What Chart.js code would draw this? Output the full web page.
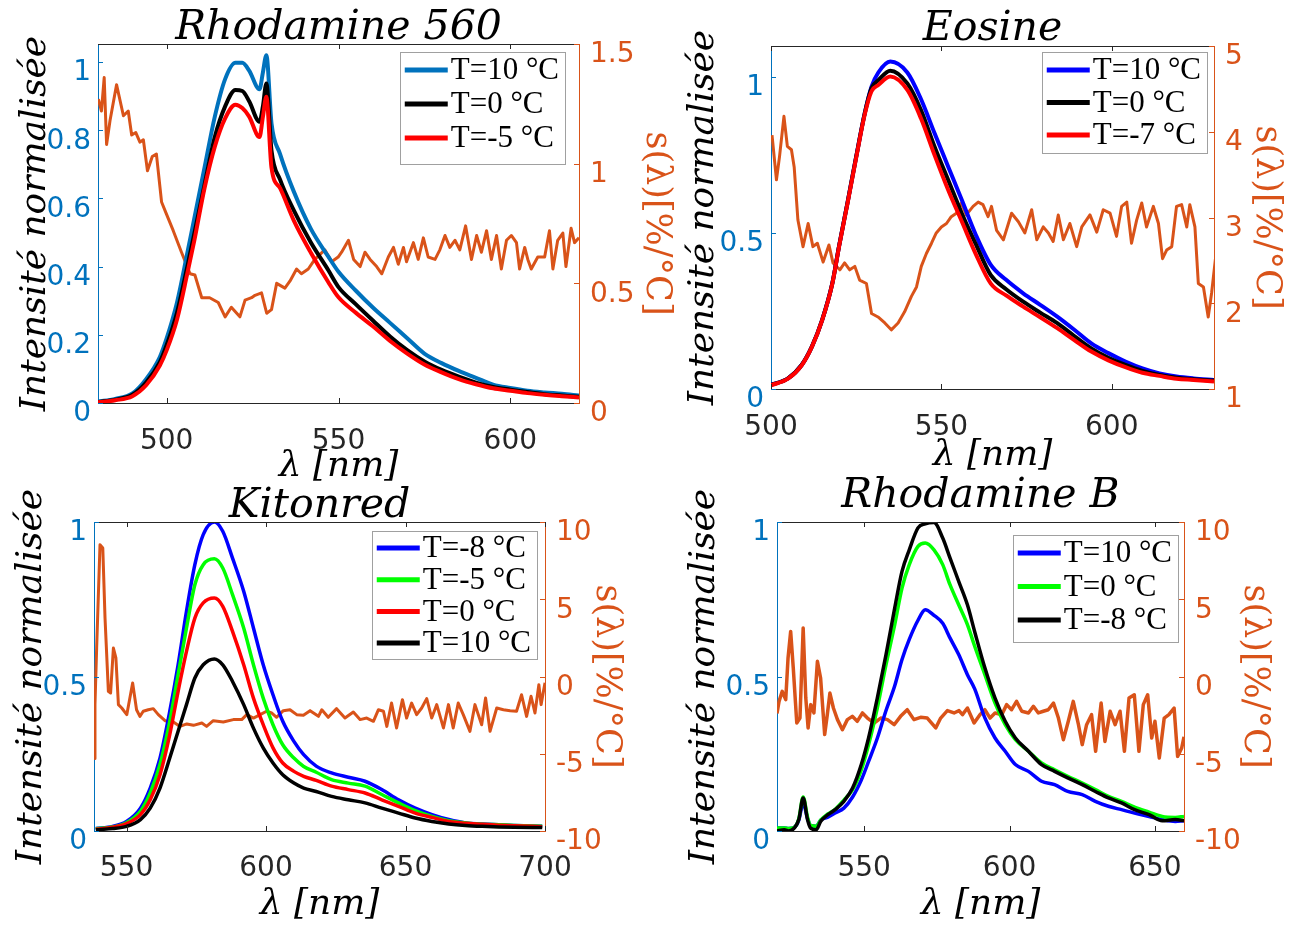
<!DOCTYPE html>
<html>
<head>
<meta charset="utf-8">
<script src="https://cdn.jsdelivr.net/npm/chart.js@4.4.1/dist/chart.umd.min.js"></script>
<style>
  html, body { margin: 0; background: #fff; }
  #wrap { position: relative; width: 1301px; height: 925px; overflow: hidden; }
  #wrap canvas { position: absolute; left: 0; top: 0; }
</style>
</head>
<body>
<div id="wrap">
  <canvas id="c1" width="1301" height="925"></canvas>
  <canvas id="c2" width="1301" height="925"></canvas>
  <canvas id="c3" width="1301" height="925"></canvas>
  <canvas id="c4" width="1301" height="925"></canvas>
</div>
<script>
// ---- Rhodamine 560 ----
const r560Wl = [480, 485, 490, 494, 498, 500, 503, 506, 508, 511, 514, 517, 520, 522, 524, 527, 528, 529, 530.5, 533,
  537, 542, 547, 550, 555, 560, 565, 570, 575, 580, 585, 590, 595, 600, 605, 610, 615, 620];
const r560T10 = [0.004, 0.012, 0.028, 0.07, 0.135, 0.19, 0.295, 0.44, 0.54, 0.69, 0.84, 0.95, 0.998, 0.998, 0.975, 0.92, 0.97, 1.02, 0.82, 0.73,
  0.62, 0.51, 0.43, 0.385, 0.33, 0.28, 0.235, 0.19, 0.145, 0.117, 0.094, 0.074, 0.054, 0.044, 0.036, 0.031, 0.027, 0.022];
const r560T0 = [0.003, 0.01, 0.024, 0.06, 0.12, 0.17, 0.265, 0.4, 0.495, 0.64, 0.78, 0.87, 0.918, 0.915, 0.885, 0.825, 0.87, 0.937, 0.74, 0.655,
  0.565, 0.47, 0.39, 0.34, 0.29, 0.242, 0.195, 0.155, 0.122, 0.097, 0.077, 0.06, 0.047, 0.039, 0.032, 0.026, 0.022, 0.018];
const r560Tm5 = [0.002, 0.008, 0.02, 0.052, 0.11, 0.155, 0.245, 0.38, 0.475, 0.63, 0.752, 0.835, 0.875, 0.865, 0.84, 0.78, 0.84, 0.898, 0.69, 0.63,
  0.535, 0.44, 0.355, 0.31, 0.265, 0.225, 0.182, 0.145, 0.113, 0.09, 0.07, 0.055, 0.043, 0.036, 0.029, 0.024, 0.02, 0.016];
const r560S = [[480.1,1.27],[481,1.22],[481.8,1.36],[482.5,1.08],[483.5,1.18],[485.4,1.33],[487.4,1.2],[488.8,1.22],[489.8,1.12],[491,1.13],
  [492.2,1.09],[493.2,1.1],[494.4,0.97],[495.8,1.03],[497,1.04],[498.5,0.84],[499.9,0.79],[501.9,0.72],[504.3,0.63],[506.8,0.54],
  [508.2,0.535],[510.2,0.44],[512.5,0.44],[515,0.42],[517,0.36],[518.8,0.4],[521.3,0.36],[522.8,0.43],[524.7,0.44],[525.7,0.45],
  [527.6,0.46],[529.1,0.375],[530.5,0.39],[532,0.5],[534.4,0.48],[535.9,0.51],[537.8,0.56],[539.2,0.54],[541.2,0.56],[543.1,0.6],
  [546,0.64],[548,0.59],[549.9,0.61],[550.9,0.63],[552.9,0.68],[554.4,0.6],[556.3,0.57],[557.7,0.63],[559.2,0.6],[561.1,0.57],
  [562.6,0.54],[564.5,0.61],[566,0.65],[567.4,0.58],[568.9,0.65],[569.8,0.59],[571.8,0.67],[573.2,0.6],[574.7,0.69],[576.1,0.61],
  [578.1,0.6],[579.5,0.64],[581,0.7],[582.4,0.65],[583.9,0.68],[585.3,0.64],[587,0.74],[588.7,0.6],[590.2,0.7],[591.6,0.63],
  [593.1,0.72],[594.5,0.6],[596,0.7],[597.4,0.56],[598.9,0.68],[600.3,0.7],[601.8,0.67],[602.7,0.56],[604.2,0.65],[605.1,0.6],
  [606.1,0.56],[608,0.61],[610,0.61],[611.4,0.72],[612.4,0.56],[613.8,0.68],[615.3,0.71],[616.2,0.57],[617.7,0.73],[618.7,0.67],[620,0.69]];
const r560XTicks = [500, 550, 600];
const r560YTicks = [0, 0.2, 0.4, 0.6, 0.8, 1];
const r560Y2Ticks = [0, 0.5, 1, 1.5];
const r560Labels = ['T=10 °C', 'T=0 °C', 'T=-5 °C'];

// ---- Eosine ----
const eosWl = [500, 505, 509, 512, 515, 518, 520, 522.5, 525, 527.5, 529.5, 531.5, 535, 540, 544, 548, 552, 556, 560, 564.5,
  569, 574, 579, 584, 589, 594, 599, 604, 609, 614, 619, 624, 630];
const eosT10 = [0.013, 0.034, 0.077, 0.136, 0.221, 0.339, 0.46, 0.6, 0.745, 0.884, 0.97, 1.015, 1.05, 1.015, 0.93, 0.82, 0.713, 0.606, 0.497, 0.398,
  0.35, 0.307, 0.27, 0.232, 0.19, 0.146, 0.115, 0.088, 0.066, 0.05, 0.04, 0.034, 0.029];
const eosT0 = [0.013, 0.034, 0.077, 0.136, 0.221, 0.339, 0.46, 0.6, 0.745, 0.884, 0.965, 0.99, 1.021, 0.98, 0.895, 0.777, 0.67, 0.563, 0.467, 0.365,
  0.32, 0.28, 0.245, 0.211, 0.17, 0.13, 0.1, 0.077, 0.058, 0.045, 0.036, 0.031, 0.027];
const eosTm7 = [0.012, 0.033, 0.076, 0.135, 0.22, 0.338, 0.458, 0.598, 0.742, 0.88, 0.955, 0.975, 1.002, 0.959, 0.868, 0.75, 0.638, 0.537, 0.435, 0.338,
  0.3, 0.264, 0.23, 0.195, 0.157, 0.12, 0.092, 0.07, 0.052, 0.042, 0.033, 0.029, 0.024];
const eosS = [[500.3,3.96],[501.6,3.44],[502.5,3.71],[503.8,4.18],[504.8,3.83],[506,3.79],[506.8,3.59],[507.9,2.97],[509.4,2.66],[510.9,2.93],
  [512.3,2.66],[513.6,2.7],[515.3,2.48],[517,2.68],[518.2,2.47],[520.2,2.39],[521.6,2.47],[523.1,2.39],[524.6,2.43],[526,2.27],
  [528,2.23],[529.5,1.88],[531.4,1.84],[533.4,1.77],[535.3,1.69],[537.3,1.77],[539.2,1.9],[541.2,2.08],[542.7,2.19],[544.1,2.43],
  [545.6,2.58],[547.1,2.7],[548.5,2.82],[550,2.89],[551.5,2.93],[552.9,3.01],[554.4,3.05],[555.9,3.17],[557.3,3.03],[559.3,3.13],
  [560.8,3.18],[562.2,3.15],[563.7,3.01],[564.7,3.13],[566.2,2.85],[568.2,2.74],[570.6,3.05],[572.6,2.95],[574.5,2.82],[576.5,3.09],
  [578,2.74],[579.9,2.89],[581.4,2.82],[582.8,2.72],[584.3,3.03],[585.8,2.74],[587.7,2.93],[589.7,2.66],[591.2,2.89],[593.6,3.03],
  [595.6,2.83],[597.5,3.09],[599.5,3.05],[601.4,2.78],[602.9,3.13],[604.4,3.18],[605.8,2.7],[607.3,2.97],[608.8,3.17],[610.2,2.89],
  [612.2,3.13],[613.7,2.93],[614.9,2.52],[616.1,2.62],[617.6,2.66],[619,3.13],[620.5,3.15],[622,2.89],[622.9,3.15],[624.4,2.89],
  [625.4,2.23],[626.9,2.19],[628.3,1.84],[629.3,2.12],[630.6,2.58]];
const eosXTicks = [500, 550, 600];
const eosYTicks = [0, 0.5, 1];
const eosY2Ticks = [1, 2, 3, 4, 5];
const eosLabels = ['T=10 °C', 'T=0 °C', 'T=-7 °C'];

// ---- Kitonred ----
const kitWl = [539, 545, 550, 555, 558.5, 562, 565.5, 568.5, 571.5, 574.5, 577.5, 581.5, 584.5, 588, 592, 595.5, 599, 602.5, 606, 610,
  613.5, 618, 623.5, 629.5, 635.5, 641.5, 647.5, 653.5, 659.5, 665.5, 671.5, 677.5, 683.5, 689, 699];
const kitTm8 = [0.008, 0.015, 0.031, 0.074, 0.139, 0.236, 0.387, 0.538, 0.711, 0.862, 0.959, 1.0, 0.97, 0.883, 0.776, 0.657, 0.538, 0.441, 0.355, 0.29,
  0.247, 0.21, 0.188, 0.174, 0.161, 0.134, 0.101, 0.074, 0.053, 0.037, 0.026, 0.023, 0.02, 0.018, 0.015];
const kitTm5 = [0.007, 0.013, 0.027, 0.064, 0.123, 0.215, 0.355, 0.506, 0.657, 0.797, 0.862, 0.881, 0.851, 0.765, 0.657, 0.538, 0.43, 0.344, 0.279, 0.236,
  0.209, 0.19, 0.166, 0.155, 0.145, 0.118, 0.091, 0.066, 0.047, 0.033, 0.026, 0.022, 0.02, 0.018, 0.015];
const kitT0 = [0.006, 0.012, 0.024, 0.053, 0.101, 0.182, 0.312, 0.452, 0.581, 0.689, 0.738, 0.754, 0.727, 0.646, 0.538, 0.43, 0.344, 0.269, 0.22, 0.193,
  0.177, 0.164, 0.145, 0.134, 0.123, 0.101, 0.08, 0.058, 0.044, 0.031, 0.025, 0.022, 0.019, 0.017, 0.014];
const kitT10 = [0.004, 0.008, 0.015, 0.037, 0.074, 0.139, 0.236, 0.323, 0.409, 0.495, 0.538, 0.557, 0.538, 0.484, 0.409, 0.333, 0.269, 0.22, 0.182, 0.155,
  0.139, 0.128, 0.112, 0.101, 0.091, 0.074, 0.058, 0.042, 0.031, 0.023, 0.018, 0.015, 0.013, 0.012, 0.011];
const kitS = [[538.4,-5.3],[538.7,-1.82],[539.3,1.84],[540.5,8.53],[541.5,8.32],[542.3,3.79],[543.5,-0.96],[544.3,-1.07],[545.3,1.84],[546.2,1.2],
  [547.1,-1.82],[548.3,-2.04],[550.1,-2.47],[552.2,-0.42],[553.6,-2.15],[554.8,-2.58],[556,-2.25],[557.8,-2.15],[559.6,-2.08],[561.4,-2.47],
  [563.8,-2.86],[566.8,-2.94],[569.2,-3.23],[571.6,-3.07],[574,-3.16],[577,-3.01],[578.7,-3.23],[581.1,-2.86],[584.7,-2.94],[588.3,-2.79],
  [591.3,-2.79],[593.1,-2.47],[595.5,-2.69],[597.9,-2.47],[600.2,-2.25],[602,-2.36],[603.8,-2.64],[606.2,-2.21],[608.6,-2.15],[611,-2.47],
  [613.4,-2.51],[615.8,-2.21],[618.8,-2.58],[620,-2.15],[622.3,-2.64],[625.3,-2.08],[628.3,-2.69],[631.3,-2.3],[633.7,-2.79],[636.1,-2.69],
  [638.5,-2.9],[640.3,-2.15],[642.1,-2.25],[643.3,-3.23],[645,-1.72],[646.8,-3.33],[648.9,-1.5],[650.4,-2.69],[652.2,-1.72],[654,-2.47],
  [655.8,-2.04],[657.6,-1.43],[659.4,-2.69],[661.2,-1.82],[663.6,-3.33],[665.4,-1.82],[667.1,-3.33],[668.9,-1.72],[670.7,-2.47],[673.1,-3.55],
  [674.9,-1.82],[677.3,-3.12],[678.7,-1.39],[680.3,-3.55],[682.7,-2.04],[685.1,-2.15],[687.5,-2.21],[689.8,-2.25],[691.6,-1.18],[693.4,-2.58],
  [695,-1.28],[696.4,-2.36],[697.8,-0.53],[698.6,-1.82],[700,-0.4]];
const kitXTicks = [550, 600, 650, 700];
const kitYTicks = [0, 0.5, 1];
const kitY2Ticks = [-10, -5, 0, 5, 10];
const kitLabels = ['T=-8 °C', 'T=-5 °C', 'T=0 °C', 'T=10 °C'];

// ---- Rhodamine B ----
const rbWl = [520, 522.5, 524, 526, 527.5, 529, 530.5, 531.5, 533.5, 535, 537.5, 540, 543, 546, 549, 551.5, 554.5, 557.5, 560.5, 563,
  565.5, 568.5, 571, 574, 577, 579.5, 582.5, 585.5, 588, 591.5, 595, 598.5, 602, 606.5, 611, 615.5, 620, 625, 629.5, 634,
  638.5, 643, 648, 652.5, 657, 660];
const rbT10 = [0.01, 0.01, 0.008, 0.012, 0.035, 0.09, 0.04, 0.018, 0.015, 0.035, 0.045, 0.058, 0.074, 0.11, 0.165, 0.225, 0.3, 0.39, 0.47, 0.555,
  0.62, 0.682, 0.716, 0.698, 0.672, 0.625, 0.571, 0.506, 0.46, 0.366, 0.301, 0.258, 0.215, 0.193, 0.161, 0.15, 0.128, 0.118, 0.096, 0.08,
  0.069, 0.058, 0.047, 0.037, 0.031, 0.033];
const rbT0 = [0.01, 0.01, 0.008, 0.012, 0.04, 0.11, 0.045, 0.018, 0.015, 0.035, 0.055, 0.07, 0.1, 0.134, 0.198, 0.279, 0.398, 0.538, 0.668, 0.786,
  0.862, 0.921, 0.932, 0.91, 0.862, 0.797, 0.732, 0.668, 0.598, 0.506, 0.414, 0.344, 0.296, 0.258, 0.22, 0.198, 0.177, 0.155, 0.134, 0.112,
  0.096, 0.077, 0.061, 0.047, 0.044, 0.047];
const rbTm8 = [0, 0.004, 0, 0.01, 0.037, 0.107, 0.037, 0.01, 0.004, 0.031, 0.053, 0.069, 0.096, 0.139, 0.215, 0.301, 0.43, 0.571, 0.722, 0.84,
  0.91, 0.981, 0.994, 0.998, 0.948, 0.884, 0.808, 0.732, 0.645, 0.528, 0.43, 0.355, 0.301, 0.258, 0.215, 0.193, 0.172, 0.15, 0.128, 0.107,
  0.091, 0.069, 0.053, 0.033, 0.037, 0.033];
const rbS = [[520,-2.4],[520.7,-1.61],[521.8,-0.96],[523,-1.5],[523.8,1.2],[524.7,2.92],[525.6,0.55],[526.8,-3.01],[527.9,-2.69],[529,3.14],
  [529.9,-1.39],[530.7,-3.33],[531.6,-1.82],[532.7,-2.36],[533.9,0.98],[535,-0.1],[536.4,-3.76],[537.3,-2.47],[538.2,-1.07],[539.4,-2.04],
  [540.8,-2.79],[542.5,-3.44],[544.2,-2.79],[545.9,-2.58],[547.6,-2.9],[549.4,-2.36],[551.1,-2.69],[553.4,-3.01],[555.7,-2.69],[558,-2.79],
  [560.3,-3.12],[562.5,-2.58],[564.8,-2.15],[567.1,-2.79],[569.4,-2.64],[571.7,-2.69],[574.6,-3.33],[576.3,-2.69],[578.6,-2.21],[580.9,-2.36],
  [582.6,-2.21],[583.8,-2.47],[585.5,-2.04],[587.8,-3.01],[589.8,-2.47],[591.5,-2.15],[593.3,-2.69],[595,-2.36],[597.3,-2.47],[599,-1.82],
  [600.7,-2.15],[602.4,-1.61],[604.2,-2.25],[606.5,-2.36],[608.2,-1.93],[609.9,-2.36],[611.6,-2.25],[613.3,-2.15],[615.1,-1.72],[616.8,-2.69],
  [618.5,-4.09],[620.2,-2.9],[621.9,-1.61],[623.7,-3.12],[625,-4.41],[626.5,-3.12],[628.2,-2.47],[629.6,-4.84],[631.5,-1.72],[632.8,-4.2],
  [634.6,-2.25],[636.3,-3.12],[638,-2.25],[639.5,-4.84],[641.1,-1.39],[642.9,-1.18],[644.5,-4.84],[646,-1.82],[647.5,-1.18],[648.9,-3.98],
  [650,-2.9],[651.5,-5.28],[653.2,-2.69],[654.8,-2.47],[656.6,-2.04],[657.8,-5.17],[659.2,-4.63],[660,-3.9]];
const rbXTicks = [550, 600, 650];
const rbYTicks = [0, 0.5, 1];
const rbY2Ticks = [-10, -5, 0, 5, 10];
const rbLabels = ['T=10 °C', 'T=0 °C', 'T=-8 °C'];

// common text
const yTitle = 'Intensité normalisée';
const y2Title = 's(λ)[%/°C]';
const xTitle = 'λ [nm]';

const AX_BLUE = '#0072BD';
const ORANGE = '#D95319';
const GRAY = '#262626';
const SERIF = "'DejaVu Serif', serif";
const SANS = "'DejaVu Sans', sans-serif";
const LEG_FONT = "'Liberation Serif', serif";

function pts(xs, ys) { return xs.map((x, i) => ({ x: x, y: ys[i] })); }
function pairs(a) { return a.map(p => ({ x: p[0], y: p[1] })); }

// MATLAB style frame: top line and inward ticks
const framePlugin = {
  id: 'frame',
  afterDatasetsDraw(chart) {
    const { ctx, chartArea: a, scales } = chart;
    const tl = 5;
    ctx.save();
    ctx.lineWidth = 1;
    ctx.strokeStyle = GRAY;
    ctx.beginPath();
    ctx.moveTo(a.left, a.top + 0.5);
    ctx.lineTo(a.right, a.top + 0.5);
    scales.x.ticks.forEach(t => {
      const px = Math.round(scales.x.getPixelForValue(t.value)) + 0.5;
      ctx.moveTo(px, a.bottom); ctx.lineTo(px, a.bottom - tl);
      ctx.moveTo(px, a.top); ctx.lineTo(px, a.top + tl);
    });
    ctx.stroke();
    ctx.strokeStyle = AX_BLUE;
    ctx.beginPath();
    scales.y.ticks.forEach(t => {
      const py = Math.round(scales.y.getPixelForValue(t.value)) + 0.5;
      ctx.moveTo(a.left, py); ctx.lineTo(a.left + tl, py);
    });
    ctx.stroke();
    ctx.strokeStyle = ORANGE;
    ctx.beginPath();
    scales.y2.ticks.forEach(t => {
      const py = Math.round(scales.y2.getPixelForValue(t.value)) + 0.5;
      ctx.moveTo(a.right, py); ctx.lineTo(a.right - tl, py);
    });
    ctx.stroke();
    ctx.restore();
  }
};

// boxed legend in the upper right corner of the axes
const boxLegend = {
  id: 'boxLegend',
  afterDraw(chart, args, o) {
    const { ctx, chartArea: a } = chart;
    const items = chart.data.datasets.filter(d => d.yAxisID === 'y');
    ctx.save();
    ctx.font = '31px ' + LEG_FONT;
    const tw = Math.max(...items.map(d => ctx.measureText(d.label).width));
    const w = 5 + 43 + 3 + tw + 6;
    const left = a.right - o.right - w;
    const top = a.top + o.top;
    ctx.fillStyle = '#fff';
    ctx.fillRect(left, top, w, o.h);
    ctx.strokeStyle = '#a0a0a0';
    ctx.lineWidth = 1;
    ctx.strokeRect(Math.round(left) + 0.5, Math.round(top) + 0.5, Math.round(w), Math.round(o.h));
    ctx.textBaseline = 'middle';
    ctx.textAlign = 'left';
    items.forEach((d, i) => {
      const y = top + o.first + i * o.row;
      ctx.strokeStyle = d.borderColor;
      ctx.lineWidth = 5;
      ctx.beginPath();
      ctx.moveTo(left + 5, y);
      ctx.lineTo(left + 48, y);
      ctx.stroke();
      ctx.fillStyle = '#000';
      ctx.fillText(d.label, left + 51, y + 1);
    });
    ctx.restore();
  }
};

function spectrum(label, xs, ys, color, width, order) {
  return {
    label: label, data: pts(xs, ys), yAxisID: 'y', borderColor: color, borderWidth: width,
    pointRadius: 0, cubicInterpolationMode: 'monotone', borderJoinStyle: 'round', order: order
  };
}
function sensitivity(list, width) {
  return {
    label: 's', data: pairs(list), yAxisID: 'y2', borderColor: ORANGE, borderWidth: width,
    pointRadius: 0, tension: 0, borderJoinStyle: 'round', order: 20
  };
}

function fixedTicks(list) {
  return s => { s.ticks = list.map(v => ({ value: v })); };
}

function makePanel(id, p) {
  const wl = p.L - (p.yTitleX - 18);
  const wr = (p.y2TitleX + 17.5) - p.R;
  const hx = (p.xTitleY + 18) - p.B;
  const lh = 41 * 0.75;
  const padTop = p.titleY - lh / 2;
  const titleGap = p.T - padTop - lh;
  return new Chart(document.getElementById(id), {
    type: 'line',
    data: { datasets: p.datasets },
    options: {
      responsive: false,
      animation: false,
      devicePixelRatio: 1,
      layout: { padding: { left: p.L - wl, right: 1301 - p.R - wr, top: padTop, bottom: 925 - p.B - hx } },
      plugins: {
        legend: { display: false },
        tooltip: { enabled: false },
        title: {
          display: true, text: p.title, fullSize: false, color: '#000',
          font: { family: SERIF, size: 41, style: 'italic', weight: 'normal', lineHeight: 0.75 },
          padding: { top: 0, bottom: titleGap }
        },
        boxLegend: p.legend
      },
      scales: {
        x: {
          type: 'linear', min: p.xMin, max: p.xMax,
          afterBuildTicks: fixedTicks(p.xTicks),
          afterFit: s => { s.height = hx; },
          grid: { display: false, drawTicks: false },
          border: { color: GRAY, width: 1 },
          ticks: { color: GRAY, padding: p.xPad, autoSkip: false, maxRotation: 0,
            font: { family: SANS, size: 28, lineHeight: 1 }, callback: v => String(v) },
          title: { display: true, text: xTitle, color: '#000', padding: 0,
            font: { family: SERIF, size: 36, style: 'italic', lineHeight: 1 } }
        },
        y: {
          position: 'left', min: p.yMin, max: p.yMax,
          afterBuildTicks: fixedTicks(p.yTicks),
          afterFit: s => { s.width = wl; },
          grid: { display: false, drawTicks: false },
          border: { color: AX_BLUE, width: 1 },
          ticks: { color: AX_BLUE, padding: 7, labelOffset: 11, autoSkip: false,
            font: { family: SANS, size: 28, lineHeight: 1 }, callback: v => String(v) },
          title: { display: true, text: yTitle, color: '#000', padding: 0,
            font: { family: SERIF, size: 36, style: 'italic', lineHeight: 1 } }
        },
        y2: {
          position: 'right', min: p.y2Min, max: p.y2Max,
          afterBuildTicks: fixedTicks(p.y2Ticks),
          afterFit: s => { s.width = wr; },
          grid: { display: false, drawTicks: false },
          border: { color: ORANGE, width: 1 },
          ticks: { color: ORANGE, padding: 11, labelOffset: 11, autoSkip: false,
            font: { family: SANS, size: 28, lineHeight: 1 }, callback: v => String(v) },
          title: { display: true, text: y2Title, color: ORANGE, padding: 0,
            font: { family: SERIF, size: 35, lineHeight: 1 } }
        }
      }
    },
    plugins: [framePlugin, boxLegend]
  });
}

makePanel('c1', {
  title: 'Rhodamine 560',
  L: 98, T: 44, R: 579, B: 403, yTitleX: 35.5, y2TitleX: 656, xTitleY: 467, titleY: 28.5, xPad: 25,
  xMin: 480, xMax: 620, yMin: 0, yMax: 1.053, y2Min: 0, y2Max: 1.5,
  xTicks: r560XTicks, yTicks: r560YTicks, y2Ticks: r560Y2Ticks,
  legend: { right: 14, top: 8, h: 112, first: 18, row: 34 },
  datasets: [
    spectrum(r560Labels[0], r560Wl, r560T10, '#0072BD', 4, 3),
    spectrum(r560Labels[1], r560Wl, r560T0, '#000000', 4, 2),
    spectrum(r560Labels[2], r560Wl, r560Tm5, '#FF0000', 4, 1),
    sensitivity(r560S, 3)
  ]
});

makePanel('c2', {
  title: 'Eosine',
  L: 771, T: 46, R: 1214, B: 389, yTitleX: 703.5, y2TitleX: 1266, xTitleY: 455.5, titleY: 29, xPad: 25,
  xMin: 500, xMax: 630, yMin: 0, yMax: 1.1, y2Min: 1, y2Max: 5,
  xTicks: eosXTicks, yTicks: eosYTicks, y2Ticks: eosY2Ticks,
  legend: { right: 7, top: 6, h: 101, first: 18, row: 32.5 },
  datasets: [
    spectrum(eosLabels[0], eosWl, eosT10, '#0000FF', 4, 3),
    spectrum(eosLabels[1], eosWl, eosT0, '#000000', 4, 2),
    spectrum(eosLabels[2], eosWl, eosTm7, '#FF0000', 4, 1),
    sensitivity(eosS, 3)
  ]
});

makePanel('c3', {
  title: 'Kitonred',
  L: 94, T: 522, R: 545, B: 831, yTitleX: 31.25, y2TitleX: 606, xTitleY: 904.5, titleY: 506, xPad: 24,
  xMin: 538.35, xMax: 700, yMin: 0, yMax: 1, y2Min: -10, y2Max: 10,
  xTicks: kitXTicks, yTicks: kitYTicks, y2Ticks: kitY2Ticks,
  legend: { right: 8, top: 9, h: 128, first: 17, row: 31.7 },
  datasets: [
    spectrum(kitLabels[0], kitWl, kitTm8, '#0000FF', 3.5, 4),
    spectrum(kitLabels[1], kitWl, kitTm5, '#00FF00', 3.5, 3),
    spectrum(kitLabels[2], kitWl, kitT0, '#FF0000', 3.5, 2),
    spectrum(kitLabels[3], kitWl, kitT10, '#000000', 3.5, 1),
    sensitivity(kitS, 3)
  ]
});

makePanel('c4', {
  title: 'Rhodamine B',
  L: 777, T: 522, R: 1184, B: 831, yTitleX: 704.2, y2TitleX: 1254, xTitleY: 904.5, titleY: 496, xPad: 24,
  xMin: 520, xMax: 660, yMin: 0, yMax: 1, y2Min: -10, y2Max: 10,
  xTicks: rbXTicks, yTicks: rbYTicks, y2Ticks: rbY2Ticks,
  legend: { right: 6, top: 13, h: 107, first: 18, row: 33.5 },
  datasets: [
    spectrum(rbLabels[0], rbWl, rbT10, '#0000FF', 3.5, 3),
    spectrum(rbLabels[1], rbWl, rbT0, '#00FF00', 3.5, 2),
    spectrum(rbLabels[2], rbWl, rbTm8, '#000000', 3.5, 1),
    sensitivity(rbS, 3.5)
  ]
});
</script>
</body>
</html>
